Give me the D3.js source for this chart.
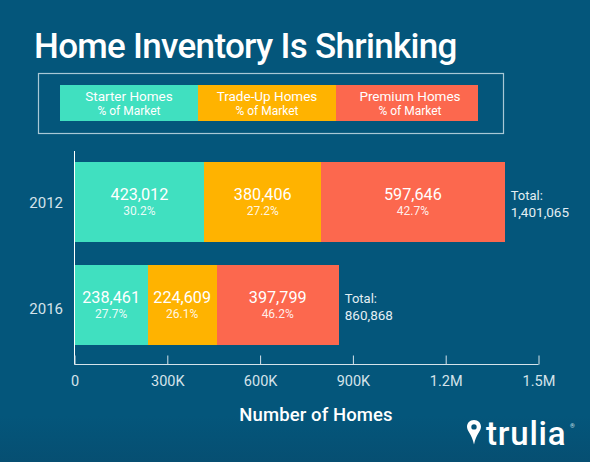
<!DOCTYPE html>
<html><head><meta charset="utf-8">
<script src="https://cdn.jsdelivr.net/npm/d3@7/dist/d3.min.js"></script>
<style>html,body{margin:0;padding:0;background:#fff}svg{display:block}text{font-family:Roboto,sans-serif}</style>
</head><body><div id="chart"></div>
<script>
const years = ["2012", "2016"];
const categories = ["Starter Homes", "Trade-Up Homes", "Premium Homes"];
const starter = [423012, 238461];
const tradeUp = [380406, 224609];
const premium = [597646, 397799];
const starterPct = ["30.2%", "27.7%"];
const tradeUpPct = ["27.2%", "26.1%"];
const premiumPct = ["42.7%", "46.2%"];
const totals = [1401065, 860868];
const tickValues = [0, 300000, 600000, 900000, 1200000, 1500000];
const tickLabels = ["0", "300K", "600K", "900K", "1.2M", "1.5M"];
const colors = ["#40E0C0", "#FFB300", "#FC684E"];

const W = 593, H = 462;
const svg = d3.select("#chart").append("svg").attr("width", W).attr("height", H);
const defs = svg.append("defs");
const g = defs.append("linearGradient").attr("id","bg").attr("x1",0).attr("x2",0).attr("y1",0).attr("y2",1);
g.append("stop").attr("offset","0").attr("stop-color","#04567B");
g.append("stop").attr("offset","0.9").attr("stop-color","#04567B");
g.append("stop").attr("offset","1").attr("stop-color","#064F72");
svg.append("rect").attr("width",590).attr("height",H).attr("fill","url(#bg)");

svg.append("text").attr("x",34).attr("y",58).attr("fill","#fff")
  .attr("font-size",35).attr("font-weight",500).style("letter-spacing","-0.7px").text("Home Inventory Is Shrinking");

// Legend
svg.append("rect").attr("x",38.5).attr("y",73.5).attr("width",465).attr("height",60)
  .attr("fill","none").attr("stroke","#a9c8d6").attr("stroke-width",1.2);
const legendEdges = d3.scaleLinear().domain([0,1,2,3]).range([60,198,336,478]);
const legendTextX = (d,i)=>(legendEdges(i)+legendEdges(i+1))/2+(i===2?3:0);
const lg = svg.append("g").selectAll("g").data(categories).join("g");
lg.append("rect").attr("x",(d,i)=>legendEdges(i)).attr("y",85).attr("width",(d,i)=>legendEdges(i+1)-legendEdges(i)).attr("height",36)
  .attr("fill",(d,i)=>colors[i]).attr("shape-rendering","crispEdges");
lg.append("text").attr("x",legendTextX).attr("y",101).attr("text-anchor","middle")
  .attr("fill","#fff").attr("font-size",13.5).text(d=>d);
lg.append("text").attr("x",legendTextX).attr("y",115).attr("text-anchor","middle")
  .attr("fill","#fff").attr("font-size",12).text("% of Market");

// Scales: the reference's bars run slightly shorter than its axis ticks
const xBar = d3.scaleLinear().domain([0,1500000]).range([74.5,535]);
const xAxis = d3.scaleLinear().domain([0,1500000]).range([74.5,538.5]);
const y = d3.scaleBand().domain(years).range([162,345]).paddingInner(0.2233);

const seriesVals = [starter, tradeUp, premium];
const seriesPct = [starterPct, tradeUpPct, premiumPct];
years.forEach((yr,i)=>{
  let acc = 0;
  seriesVals.forEach((vals,s)=>{
    const x0 = xBar(acc), x1 = xBar(acc+vals[i]);
    acc += vals[i];
    svg.append("rect").attr("x",x0).attr("y",y(yr)).attr("width",x1-x0).attr("height",y.bandwidth()).attr("fill",colors[s]).attr("shape-rendering","crispEdges");
    const cy = y(yr)+y.bandwidth()/2, cx=(x0+x1)/2;
    svg.append("text").attr("x",cx).attr("y",cy-2).attr("text-anchor","middle").attr("fill","#fff").attr("font-size",16.2).text(d3.format(",")(vals[i]));
    svg.append("text").attr("x",cx).attr("y",cy+13).attr("text-anchor","middle").attr("fill","#fff").attr("fill-opacity",0.9).attr("font-size",12).text(seriesPct[s][i]);
  });
  const tx = xBar(acc)+6, cy = y(yr)+y.bandwidth()/2;
  svg.append("text").attr("x",tx).attr("y",cy-2).attr("fill","#e3eef3").attr("font-size",13).text("Total:");
  svg.append("text").attr("x",tx).attr("y",cy+15).attr("fill","#e3eef3").attr("font-size",13.5).text(d3.format(",")(totals[i]));
  svg.append("text").attr("x",63).attr("y",cy+(i?9:6)).attr("text-anchor","end").attr("fill","#d5e3ea").attr("font-size",15).text(yr);
});

// Axes
svg.append("line").attr("x1",74.5).attr("x2",74.5).attr("y1",151).attr("y2",364.5).attr("stroke","#fff");
const ax = svg.append("g").attr("transform","translate(0,364.5)")
  .call(d3.axisTop(xAxis).tickValues(tickValues).tickSize(9).tickFormat((d,i)=>tickLabels[i]));
ax.selectAll("path,line").attr("stroke","#d5e3ea");
ax.select(".domain").attr("d",`M${xAxis(0)},0H${xAxis(1500000)}`);
ax.selectAll("text").attr("y",21).attr("dy",0).attr("fill","#d5e3ea").attr("font-size",14.5)
  .style("font-family","Roboto,sans-serif");
svg.append("text").attr("x",316).attr("y",421).attr("text-anchor","middle").attr("fill","#fff")
  .attr("font-size",18.5).attr("font-weight",500).style("letter-spacing","0.1px").text("Number of Homes");

// Brand mark
svg.append("path").attr("d","M474 420c-4.300 0-7 3-7 6.800 0 4.500 4.700 7 7 17.800 2.300-10.800 7-13.300 7-17.800 0-3.800-2.700-6.800-7-6.800zm0 4.200a2.700 2.700 0 1 1 0 5.400 2.700 2.700 0 0 1 0-5.400z").attr("fill","#fff").attr("fill-rule","evenodd");
svg.append("text").attr("x",486).attr("y",445).attr("fill","#fff").attr("font-size",33).attr("font-weight",500).style("letter-spacing","0.8px").text("trulia");
svg.append("text").attr("x",570).attr("y",428).attr("fill","#cfe0e8").attr("font-size",6).text("®");
</script></body></html>
